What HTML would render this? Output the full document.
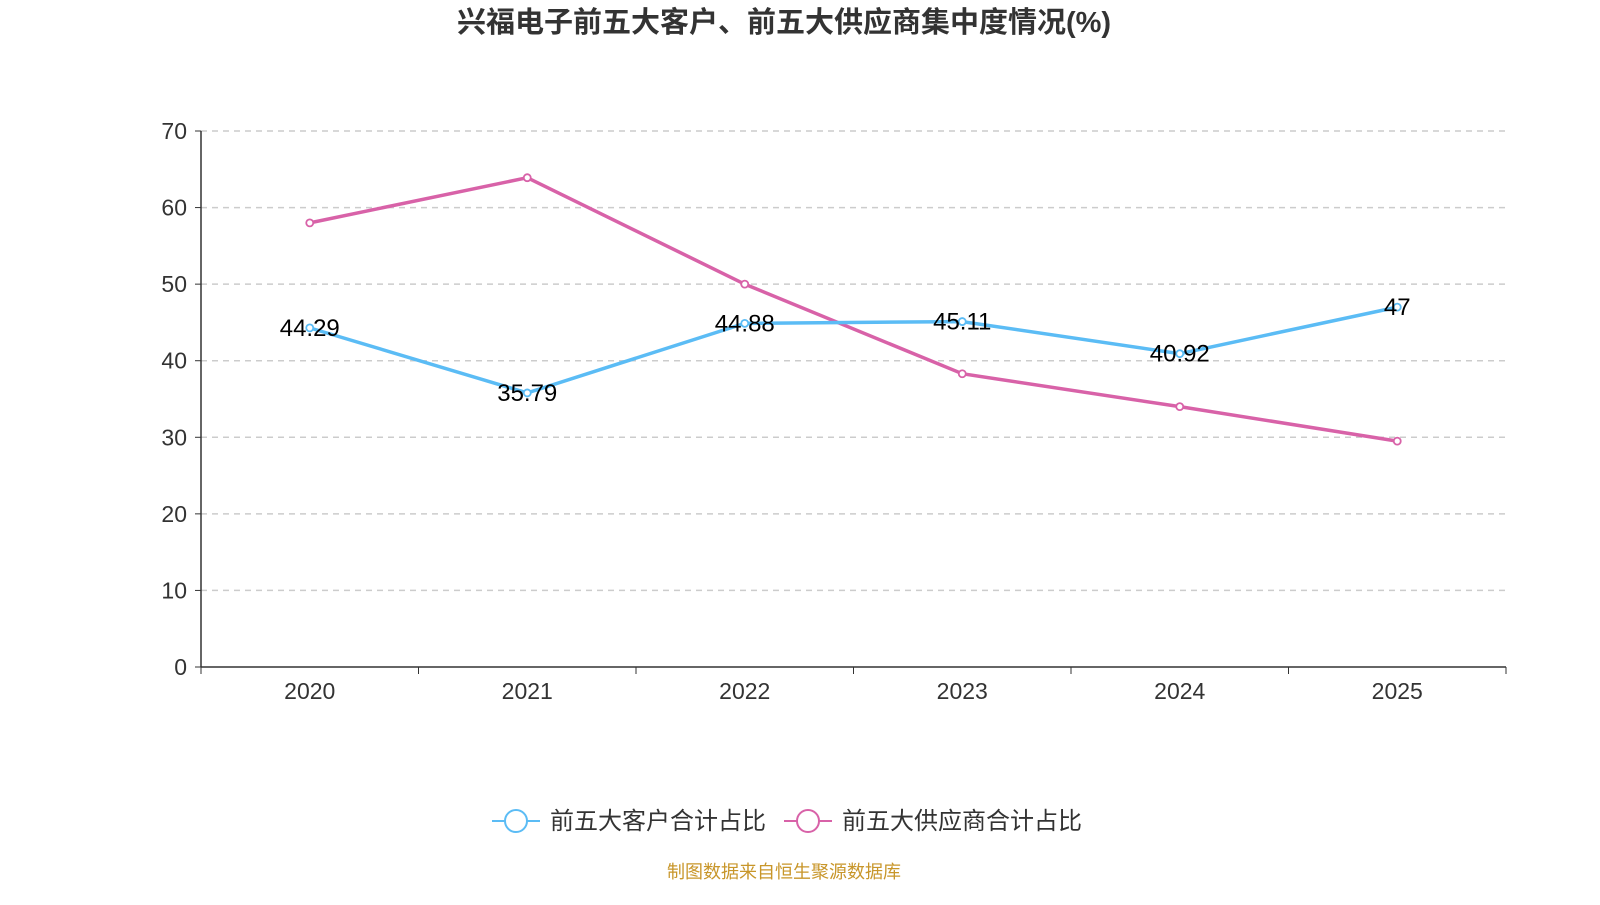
<!DOCTYPE html>
<html><head><meta charset="utf-8"><style>
body{margin:0;background:#fff;}
svg text{font-family:"Liberation Sans","Noto Sans CJK SC",sans-serif;}
</style></head><body>
<svg width="1600" height="900" xmlns="http://www.w3.org/2000/svg">
<text x="784" y="32" text-anchor="middle" font-size="29" font-weight="bold" fill="#333">兴福电子前五大客户、前五大供应商集中度情况(%)</text>
<g id="grid"></g><g id="axes"></g><g id="series"></g>
<g>
<line x1="492" y1="821" x2="540" y2="821" stroke="#5bbcf5" stroke-width="2"/>
<circle cx="516" cy="821" r="11" fill="#fff" stroke="#5bbcf5" stroke-width="2"/>
<text x="550" y="829" font-size="24" fill="#333">前五大客户合计占比</text>
<line x1="784" y1="821" x2="832" y2="821" stroke="#d862a8" stroke-width="2"/>
<circle cx="808" cy="821" r="11" fill="#fff" stroke="#d862a8" stroke-width="2"/>
<text x="842" y="829" font-size="24" fill="#333">前五大供应商合计占比</text>
</g>
<text x="784" y="878" text-anchor="middle" font-size="18" fill="#c8962a">制图数据来自恒生聚源数据库</text>
</svg>
<script>
const categories=["2020","2021","2022","2023","2024","2025"];
const customers=[44.29,35.79,44.88,45.11,40.92,47];
const suppliers=[58.0,63.9,50.0,38.3,34.0,29.5];
const yTicks=[0,10,20,30,40,50,60,70];
const NS="http://www.w3.org/2000/svg";
const x0=201,x1=1506,y0=667,y1=131,yMax=70;
const bw=(x1-x0)/categories.length;
const xs=i=>x0+bw*(i+0.5);
const ys=v=>y0-(v/yMax)*(y0-y1);
function mk(tag,attrs,parent,text){const e=document.createElementNS(NS,tag);for(const k in attrs)e.setAttribute(k,attrs[k]);if(text!==undefined)e.textContent=text;document.getElementById(parent).appendChild(e);return e;}
yTicks.forEach(t=>{
 const y=ys(t);
 if(t>0){const g=mk('line',{x1:x0,x2:x1,y1:y,y2:y,stroke:'#ccc','stroke-dasharray':'6,5','stroke-width':1.5},'grid');
 
 }
 mk('line',{x1:x0-6,x2:x0,y1:y,y2:y,stroke:'#333'},'axes');
 const l=mk('text',{x:x0-14,y:y+8,'text-anchor':'end','font-size':23,fill:'#333'},'axes',t);
 
 
});
const ya=mk('line',{x1:x0,x2:x0,y1:y1,y2:y0,stroke:'#333','stroke-width':1.5},'axes');


const xa=mk('line',{x1:x0,x2:x1,y1:y0,y2:y0,stroke:'#333','stroke-width':1.5},'axes');


for(let i=0;i<=categories.length;i++){mk('line',{x1:x0+bw*i,x2:x0+bw*i,y1:y0,y2:y0+7,stroke:'#333'},'axes');}
categories.forEach((c,i)=>{
 const l=mk('text',{x:xs(i),y:699,'text-anchor':'middle','font-size':23,fill:'#333'},'axes',c);
 
 
});
function series(vals,color,name,labels){
 const p=mk('polyline',{points:vals.map((v,i)=>xs(i)+','+ys(v)).join(' '),fill:'none',stroke:color,'stroke-width':3.5},'series');
 
 
 vals.forEach((v,i)=>{
  const c=mk('circle',{cx:xs(i),cy:ys(v),r:3.5,fill:'#fff',stroke:color,'stroke-width':1.8},'series');
  
  
 });
 if(labels)vals.forEach((v,i)=>{
  const t=mk('text',{x:xs(i),y:ys(v)+8,'text-anchor':'middle','font-size':24,fill:'#000'},'series',String(v));
  
  
 });
}
series(suppliers,'#d862a8','suppliers',false);
series(customers,'#5bbcf5','customers',true);
</script>
</body></html>
